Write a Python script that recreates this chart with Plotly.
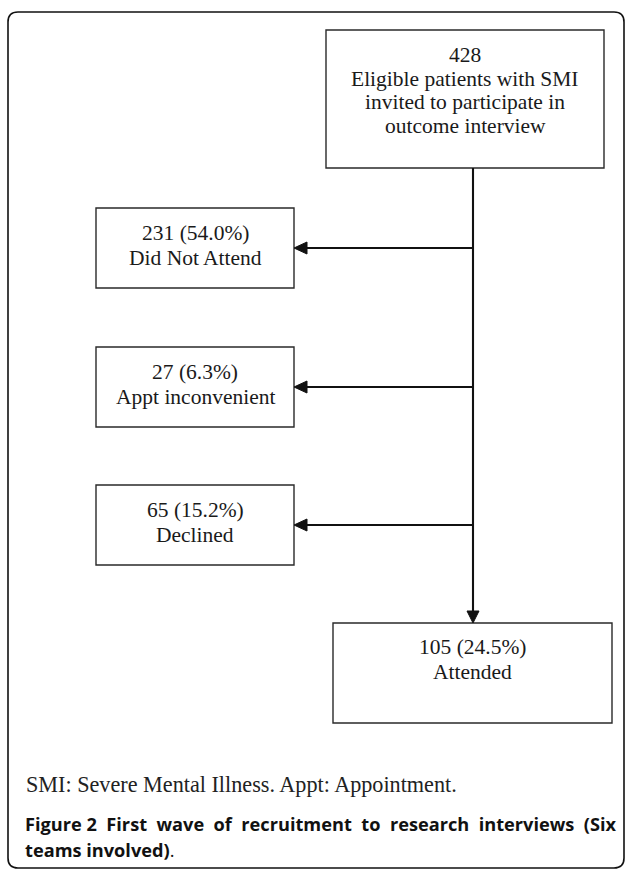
import plotly.graph_objects as go

# ---- data ----
source_count = 428
source_label = ["Eligible patients with SMI", "invited to participate in", "outcome interview"]
exit_labels = ["Did Not Attend", "Appt inconvenient", "Declined"]
exit_counts = [231, 27, 65]
exit_pcts = [54.0, 6.3, 15.2]
final_label = "Attended"
final_count = 105
final_pct = 24.5
note_text = "SMI: Severe Mental Illness. Appt: Appointment."
caption_bold = "Figure 2"
caption_rest = ["First wave of recruitment to research interviews (Six", "teams involved)"]

# ---- layout constants (pixels) ----
W, H = 629, 870
SERIF = "Liberation Serif, Times New Roman, serif"
SANS = "Open Sans, Noto Sans, sans-serif"
FS = 21.5
BOX_COL = "#2a2a2a"

top_box = (326, 30, 604, 168)
left_x0, left_x1 = 96, 294
left_tops = [208, 347, 485]
left_h = 80
bot_box = (333, 623, 612, 723)
trunk_x = 473

fig = go.Figure()
shapes = []
ann = []

def box(x0, y0, x1, y1):
    shapes.append(dict(type="rect", x0=x0, y0=y0, x1=x1, y1=y1,
                       line=dict(color=BOX_COL, width=1.4), fillcolor="rgba(0,0,0,0)"))

def text(x, y, s, size=FS, font=SERIF, xanchor="center", color="#1a1a1a"):
    ann.append(dict(x=x, y=y, text=s, showarrow=False, xanchor=xanchor, yanchor="middle",
                    font=dict(family=font, size=size, color=color), xref="x", yref="y"))

# outer rounded frame
r = 10
x0, y0, x1, y1 = 8, 12, 624, 868
path = (f"M {x0+r},{y0} L {x1-r},{y0} Q {x1},{y0} {x1},{y0+r} L {x1},{y1-r} Q {x1},{y1} {x1-r},{y1} "
        f"L {x0+r},{y1} Q {x0},{y1} {x0},{y1-r} L {x0},{y0+r} Q {x0},{y0} {x0+r},{y0} Z")
shapes.append(dict(type="path", path=path, line=dict(color="#111", width=1.6)))

# top box
box(*top_box)
cx = (top_box[0] + top_box[2]) / 2
lines = [str(source_count)] + source_label
for i, s in enumerate(lines):
    text(cx, 55 + i * 23.5, s)

# trunk line
shapes.append(dict(type="line", x0=trunk_x, y0=top_box[3], x1=trunk_x, y1=bot_box[1] - 10,
                   line=dict(color="#111", width=2.1)))

# exit boxes and arrows
for i, (lab, c, p) in enumerate(zip(exit_labels, exit_counts, exit_pcts)):
    t = left_tops[i]
    box(left_x0, t, left_x1, t + left_h)
    mid = t + left_h / 2
    lcx = (left_x0 + left_x1) / 2
    text(lcx, mid - 15, f"{c} ({p:.1f}%)")
    text(lcx, mid + 10, lab)
    shapes.append(dict(type="line", x0=left_x1 + 12, y0=mid, x1=trunk_x, y1=mid,
                       line=dict(color="#111", width=2.1)))
    shapes.append(dict(type="path",
                       path=f"M {left_x1},{mid} L {left_x1+13},{mid-6} L {left_x1+13},{mid+6} Z",
                       fillcolor="#111", line=dict(color="#111", width=1)))

# final box
box(*bot_box)
bcx = (bot_box[0] + bot_box[2]) / 2
text(bcx, 647, f"{final_count} ({final_pct:.1f}%)")
text(bcx, 672, final_label)
ty = bot_box[1]
shapes.append(dict(type="path",
                   path=f"M {trunk_x},{ty} L {trunk_x-6},{ty-12} L {trunk_x+6},{ty-12} Z",
                   fillcolor="#111", line=dict(color="#111", width=1)))

# note & caption (first caption line justified with extra word spacing)
text(24, 784, note_text, size=22.2, xanchor="left", color="#222")
gap = " \u00a0"
line1 = gap.join(caption_rest[0].split(" "))
text(23, 824, f"<b>{caption_bold}{gap}{line1}</b>", size=18.2, font=SANS,
     xanchor="left", color="#111")
text(23, 850, f"<b>{caption_rest[1]}</b>.", size=18.2, font=SANS,
     xanchor="left", color="#111")

fig.update_layout(
    width=W, height=H, margin=dict(l=0, r=0, t=0, b=0),
    paper_bgcolor="white", plot_bgcolor="white",
    xaxis=dict(range=[0, W], visible=False, fixedrange=True),
    yaxis=dict(range=[H, 0], visible=False, fixedrange=True),
    shapes=shapes, annotations=ann, showlegend=False,
)
fig.write_html("out.html", config={"displayModeBar": False},
               post_script="document.body.style.margin='0';document.body.style.overflow='hidden';")
